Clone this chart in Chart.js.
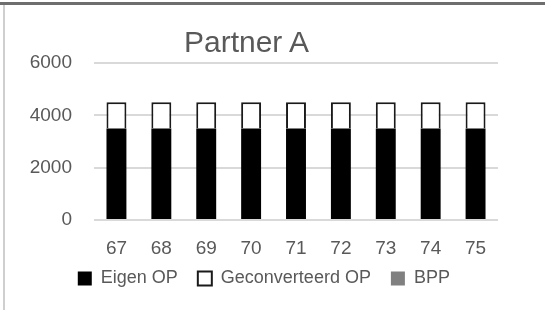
<!DOCTYPE html>
<html>
<head>
<meta charset="utf-8">
<script src="https://cdn.jsdelivr.net/npm/chart.js@4"></script>
<style>
    html, body { margin: 0; padding: 0; background: #fff; }
    #wrap { position: relative; width: 545px; height: 310px; overflow: hidden; }
    #topLine { position: absolute; left: 0; top: 2px; width: 545px; height: 3px; background: #6e6e6e; }
    #leftLine { position: absolute; left: 3px; top: 5px; width: 2px; height: 305px; background: #cfcfcf; }
    canvas { position: absolute; left: 0; top: 0; }
    /* title sits off-centre from the legend in the original, so it lives outside the canvas */
    #chartTitle {
        position: absolute; left: 146.5px; top: 24px; width: 200px;
        text-align: center; line-height: 36px;
        font-family: 'Liberation Sans', Arial, sans-serif; font-size: 30px; color: #595959;
    }
</style>
</head>
<body>
<div id="wrap">
    <div id="topLine"></div>
    <div id="leftLine"></div>
    <canvas id="partnerChart" width="545" height="310"></canvas>
    <div id="chartTitle">Partner A</div>
</div>
<script>
// Chart data
const categories = ['67', '68', '69', '70', '71', '72', '73', '74', '75'];
const eigenOP = [3500, 3500, 3500, 3500, 3500, 3500, 3500, 3500, 3500];
const geconverteerdOP = [1000, 1000, 1000, 1000, 1000, 1000, 1000, 1000, 1000];
const bpp = [0, 0, 0, 0, 0, 0, 0, 0, 0];
const yTicks = [0, 2000, 4000, 6000];

const fontFamily = "'Liberation Sans', Arial, sans-serif";
const textColor = '#595959';

const ctx = document.getElementById('partnerChart').getContext('2d');

new Chart(ctx, {
    type: 'bar',
    data: {
        labels: categories,
        datasets: [
            {
                label: 'Eigen OP',
                data: eigenOP,
                backgroundColor: '#000000',
                borderColor: '#000000',
                borderWidth: 0
            },
            {
                label: 'Geconverteerd OP',
                data: geconverteerdOP,
                backgroundColor: '#ffffff',
                borderColor: '#1a1a1a',
                borderWidth: 2
            },
            {
                label: 'BPP',
                data: bpp,
                backgroundColor: '#808080',
                borderColor: '#808080',
                borderWidth: 0
            }
        ]
    },
    options: {
        responsive: false,
        animation: false,
        devicePixelRatio: 1,
        datasets: {
            bar: { barPercentage: 0.444, categoryPercentage: 1 }
        },
        layout: {
            padding: { left: 29.7, right: 47, top: 63, bottom: 12.5 }
        },
        scales: {
            x: {
                stacked: true,
                grid: { display: false, drawTicks: false },
                border: { display: false },
                ticks: {
                    color: textColor,
                    // mirrored labels are not clipped; negative padding pushes them below the axis
                    mirror: true,
                    padding: -40.4,
                    font: { family: fontFamily, size: 19 }
                },
                afterFit: scale => { scale.height = 29.5; }
            },
            y: {
                stacked: true,
                min: yTicks[0],
                max: yTicks[yTicks.length - 1],
                afterBuildTicks: scale => {
                    scale.ticks = yTicks.map(v => ({ value: v }));
                },
                afterFit: scale => { scale.width = 64.3; },
                grid: { color: '#d9d9d9', lineWidth: 2, drawTicks: false },
                border: { display: false },
                ticks: {
                    color: textColor,
                    padding: 22,
                    font: { family: fontFamily, size: 19 },
                    callback: value => String(value)
                }
            }
        },
        plugins: {
            title: { display: false },
            legend: {
                position: 'bottom',
                labels: {
                    color: textColor,
                    boxWidth: 14,
                    boxHeight: 14,
                    padding: 20,
                    font: { family: fontFamily, size: 18 }
                }
            },
            tooltip: { enabled: false }
        }
    }
});
</script>
</body>
</html>
